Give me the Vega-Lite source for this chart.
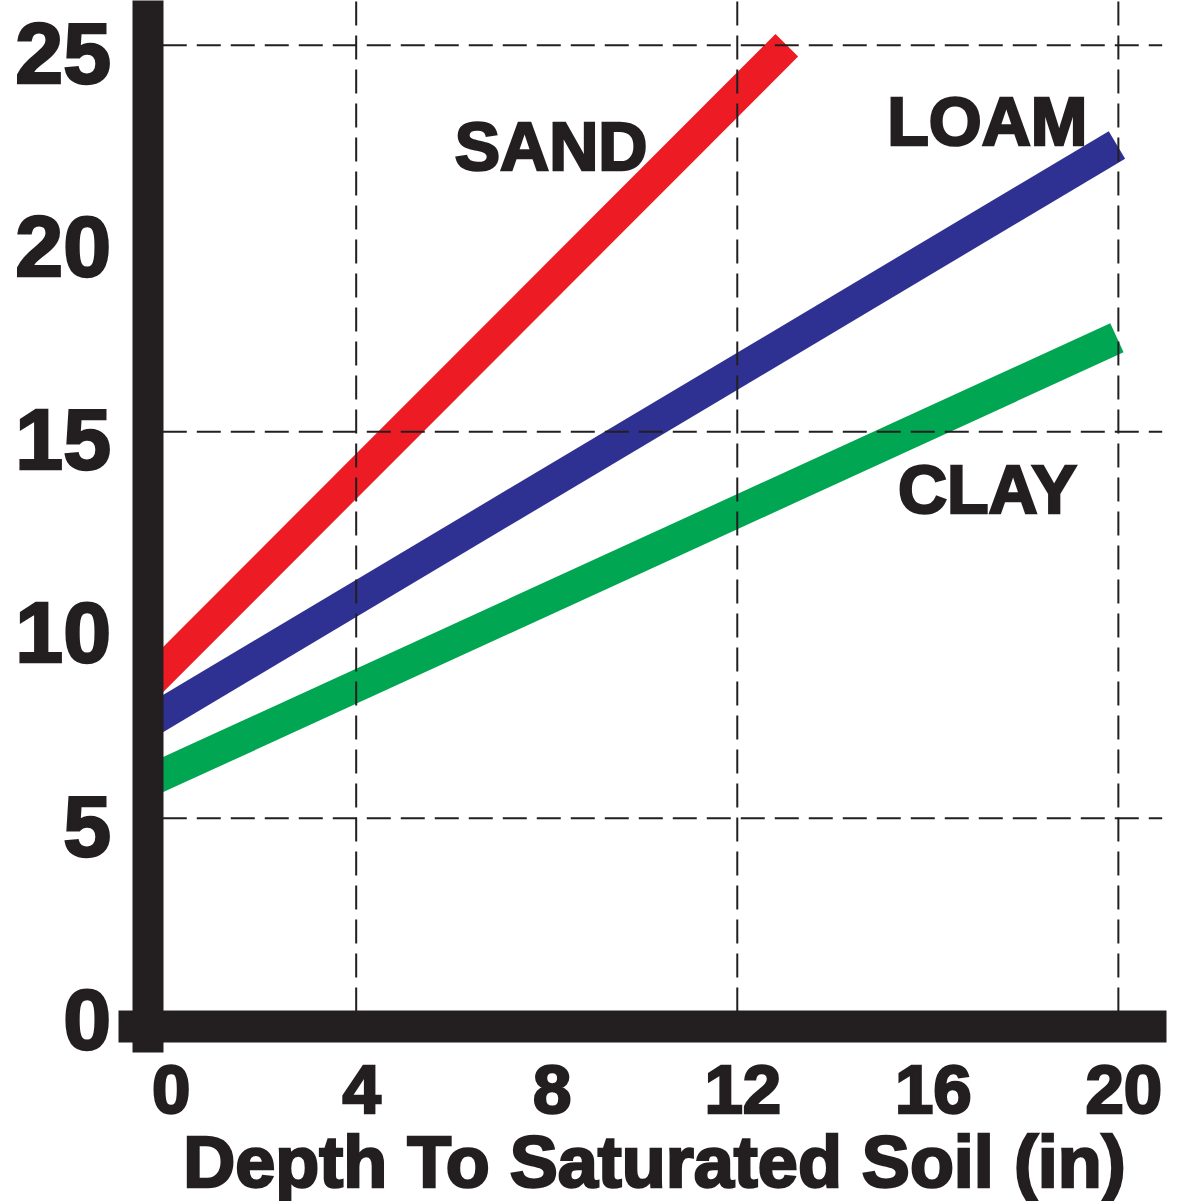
{
  "$schema": "https://vega.github.io/schema/vega-lite/v6.json",
  "width": 1048,
  "height": 1052,
  "autosize": {"type": "none"},
  "padding": {"left": 118, "top": 0, "right": 15, "bottom": 149},
  "background": "white",
  "config": {
    "view": {"stroke": null},
    "style": {
      "guide-label": {"stroke": "#231f20", "strokeWidth": 2.5},
      "guide-title": {"stroke": "#231f20", "strokeWidth": 2.5}
    }
  },
  "datasets": {
    "lines": [
      {"soil": "SAND", "depth": -0.35, "value": 8.48},
      {"soil": "SAND", "depth": 13.04, "value": 25.0},
      {"soil": "LOAM", "depth": -0.35, "value": 7.49},
      {"soil": "LOAM", "depth": 19.97, "value": 22.42},
      {"soil": "CLAY", "depth": -0.35, "value": 5.96},
      {"soil": "CLAY", "depth": 19.97, "value": 17.43}
    ],
    "labels": [
      {"soil": "SAND", "depth": 8.09, "value": 21.77},
      {"soil": "LOAM", "depth": 17.25, "value": 22.41},
      {"soil": "CLAY", "depth": 17.25, "value": 12.9}
    ],
    "vgrid": [{"depth": 4}, {"depth": 12}, {"depth": 20}],
    "hgrid": [{"value": 5}, {"value": 15}, {"value": 25}]
  },
  "layer": [
    {
      "data": {"name": "lines"},
      "mark": {"type": "line", "strokeWidth": 32, "strokeCap": "butt", "zindex": 1},
      "encoding": {
        "x": {
          "field": "depth", "type": "quantitative",
          "scale": {"domain": [-1, 21], "nice": false, "zero": false},
          "axis": {
            "values": [0, 4, 8, 12, 16, 20],
            "title": "Depth To Saturated Soil (in)",
            "grid": false, "ticks": false, "tickSize": 0,
            "domain": true, "domainWidth": 32, "domainColor": "#231f20", "domainCap": "butt",
            "offset": -26,
            "labelFont": "Liberation Sans", "labelFontWeight": "bold", "labelFontSize": 69,
            "labelColor": "#231f20", "labelPadding": 31, "labelOffset": 5,
            "labelFlush": false, "labelOverlap": false, "labelBaseline": "top",
            "titleFont": "Liberation Sans", "titleFontWeight": "bold", "titleFontSize": 72,
            "titleColor": "#231f20", "titleX": 536, "titleY": 160,
            "titleAlign": "center", "titleBaseline": "alphabetic", "titleAnchor": "middle",
            "zindex": 2
          }
        },
        "y": {
          "field": "value", "type": "quantitative",
          "scale": {"domain": [-1.05, 26.17], "nice": false, "zero": false},
          "axis": {
            "values": [0, 5, 10, 15, 20, 25],
            "title": null,
            "grid": false, "ticks": false, "tickSize": 0,
            "domain": true, "domainWidth": 31, "domainColor": "#231f20", "domainCap": "butt",
            "offset": -29.5,
            "labelFont": "Liberation Sans", "labelFontWeight": "bold", "labelFontSize": 86,
            "labelColor": "#231f20", "labelPadding": 37, "labelOffset": 11,
            "labelFlush": false, "labelOverlap": false, "labelBaseline": "middle", "labelAlign": "right",
            "zindex": 2
          }
        },
        "color": {
          "field": "soil", "type": "nominal",
          "scale": {"domain": ["SAND", "LOAM", "CLAY"], "range": ["#ed1c24", "#2e3192", "#00a651"]},
          "legend": null
        },
        "order": {"field": "depth", "type": "quantitative"}
      }
    },
    {
      "data": {"name": "vgrid"},
      "mark": {"type": "rule", "color": "#231f20", "strokeWidth": 2, "strokeDash": [24, 10], "zindex": 0},
      "encoding": {
        "x": {"field": "depth", "type": "quantitative"},
        "y": {"datum": 0, "type": "quantitative"},
        "y2": {"datum": 26.17}
      }
    },
    {
      "data": {"name": "hgrid"},
      "mark": {"type": "rule", "color": "#231f20", "strokeWidth": 2, "strokeDash": [24, 10], "zindex": 0},
      "encoding": {
        "y": {"field": "value", "type": "quantitative"},
        "x": {"datum": -0.06, "type": "quantitative"},
        "x2": {"datum": 20.92}
      }
    },
    {
      "data": {"name": "labels"},
      "mark": {
        "type": "text", "font": "Liberation Sans", "fontWeight": "bold", "fontSize": 68,
        "align": "center", "baseline": "alphabetic",
        "color": "#231f20", "stroke": "#231f20", "strokeWidth": 2.5, "zindex": 1
      },
      "encoding": {
        "x": {"field": "depth", "type": "quantitative"},
        "y": {"field": "value", "type": "quantitative"},
        "text": {"field": "soil", "type": "nominal"}
      }
    }
  ]
}
